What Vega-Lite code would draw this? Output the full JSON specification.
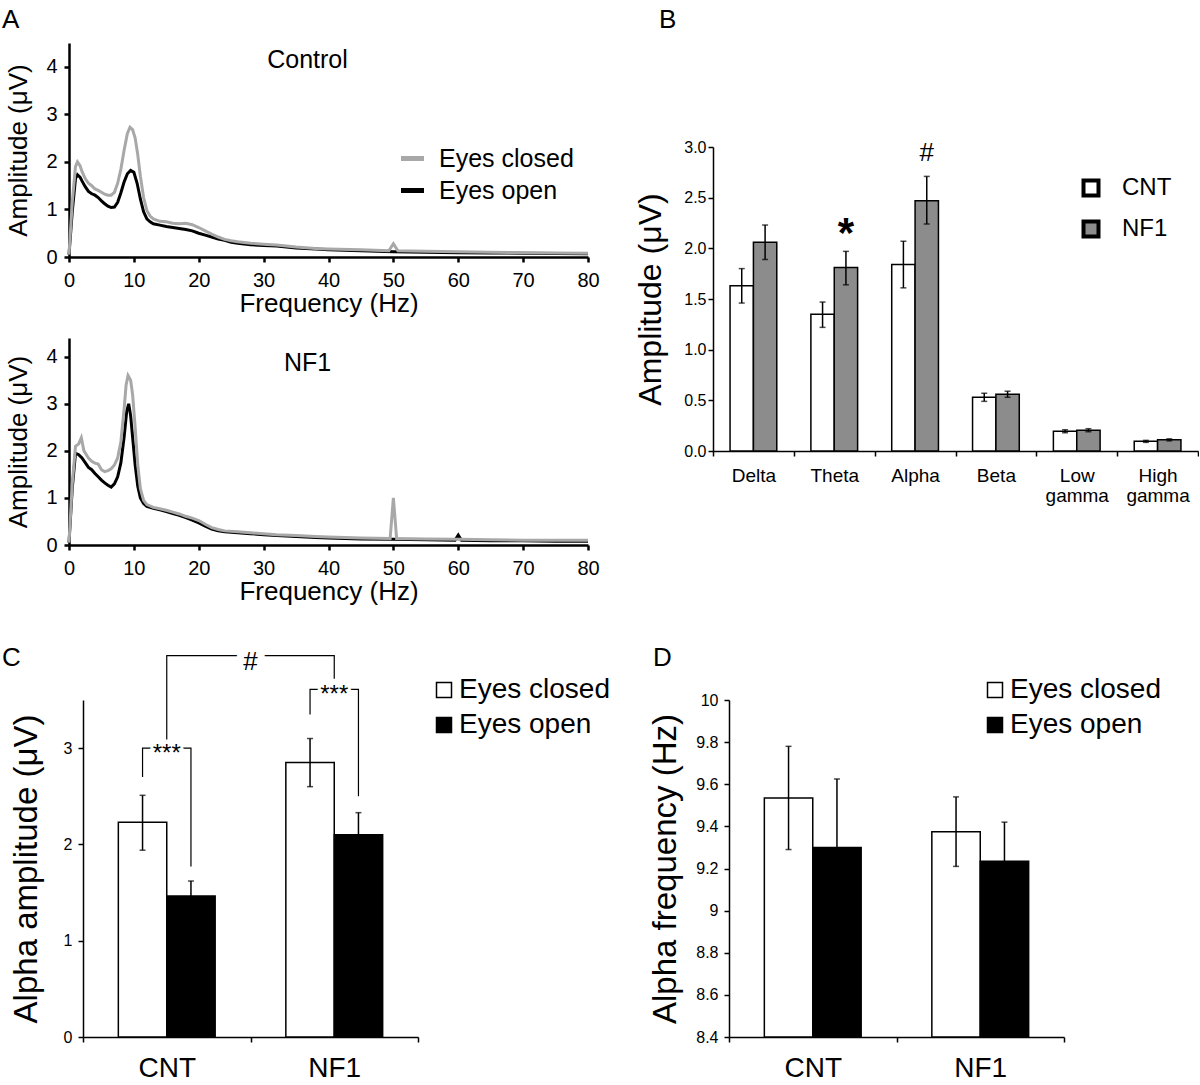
{
"$schema": "https://vega.github.io/schema/vega-lite/v6.json",
"padding": {"left": 2, "top": 7, "right": 0, "bottom": 0},
"columns": 1,
"align": "none",
"spacing": 40,
"resolve": {"scale": {"fill": "independent", "stroke": "independent", "xOffset": "independent"}, "legend": {"fill": "independent", "stroke": "independent"}},
"datasets": {
"ctrl": [
{"c":"Eyes open","f":0,"a":0.05},{"c":"Eyes open","f":0.5,"a":0.95},{"c":"Eyes open","f":1,"a":1.65},{"c":"Eyes open","f":1.3,"a":1.73},{"c":"Eyes open","f":1.7,"a":1.68},{"c":"Eyes open","f":2,"a":1.6},{"c":"Eyes open","f":2.5,"a":1.48},{"c":"Eyes open","f":3,"a":1.38},{"c":"Eyes open","f":3.5,"a":1.33},{"c":"Eyes open","f":4,"a":1.3},{"c":"Eyes open","f":4.5,"a":1.25},{"c":"Eyes open","f":5,"a":1.18},{"c":"Eyes open","f":5.5,"a":1.12},{"c":"Eyes open","f":6,"a":1.07},{"c":"Eyes open","f":6.5,"a":1.04},{"c":"Eyes open","f":7,"a":1.05},{"c":"Eyes open","f":7.5,"a":1.15},{"c":"Eyes open","f":8,"a":1.35},{"c":"Eyes open","f":8.5,"a":1.58},{"c":"Eyes open","f":9,"a":1.75},{"c":"Eyes open","f":9.5,"a":1.82},{"c":"Eyes open","f":10,"a":1.78},{"c":"Eyes open","f":10.5,"a":1.55},{"c":"Eyes open","f":11,"a":1.22},{"c":"Eyes open","f":11.5,"a":0.95},{"c":"Eyes open","f":12,"a":0.8},{"c":"Eyes open","f":12.5,"a":0.74},{"c":"Eyes open","f":13,"a":0.7},{"c":"Eyes open","f":14,"a":0.67},{"c":"Eyes open","f":15,"a":0.64},{"c":"Eyes open","f":16,"a":0.62},{"c":"Eyes open","f":17,"a":0.6},{"c":"Eyes open","f":18,"a":0.58},{"c":"Eyes open","f":19,"a":0.55},{"c":"Eyes open","f":20,"a":0.5},{"c":"Eyes open","f":21,"a":0.46},{"c":"Eyes open","f":22,"a":0.42},{"c":"Eyes open","f":23,"a":0.38},{"c":"Eyes open","f":24,"a":0.35},{"c":"Eyes open","f":25,"a":0.31},{"c":"Eyes open","f":26,"a":0.29},{"c":"Eyes open","f":28,"a":0.26},{"c":"Eyes open","f":30,"a":0.24},{"c":"Eyes open","f":32,"a":0.23},{"c":"Eyes open","f":35,"a":0.19},{"c":"Eyes open","f":38,"a":0.17},{"c":"Eyes open","f":40,"a":0.15},{"c":"Eyes open","f":45,"a":0.13},{"c":"Eyes open","f":50,"a":0.11},{"c":"Eyes open","f":55,"a":0.1},{"c":"Eyes open","f":60,"a":0.09},{"c":"Eyes open","f":65,"a":0.085},{"c":"Eyes open","f":70,"a":0.08},{"c":"Eyes open","f":75,"a":0.075},{"c":"Eyes open","f":80,"a":0.07},
{"c":"Eyes closed","f":0,"a":0.05},{"c":"Eyes closed","f":0.5,"a":1.15},{"c":"Eyes closed","f":1,"a":1.9},{"c":"Eyes closed","f":1.3,"a":2.0},{"c":"Eyes closed","f":1.7,"a":1.92},{"c":"Eyes closed","f":2,"a":1.8},{"c":"Eyes closed","f":2.5,"a":1.65},{"c":"Eyes closed","f":3,"a":1.55},{"c":"Eyes closed","f":3.5,"a":1.5},{"c":"Eyes closed","f":4,"a":1.43},{"c":"Eyes closed","f":4.5,"a":1.4},{"c":"Eyes closed","f":5,"a":1.36},{"c":"Eyes closed","f":5.5,"a":1.32},{"c":"Eyes closed","f":6,"a":1.3},{"c":"Eyes closed","f":6.5,"a":1.3},{"c":"Eyes closed","f":7,"a":1.36},{"c":"Eyes closed","f":7.5,"a":1.55},{"c":"Eyes closed","f":8,"a":1.85},{"c":"Eyes closed","f":8.5,"a":2.25},{"c":"Eyes closed","f":9,"a":2.6},{"c":"Eyes closed","f":9.4,"a":2.73},{"c":"Eyes closed","f":9.8,"a":2.68},{"c":"Eyes closed","f":10.2,"a":2.5},{"c":"Eyes closed","f":10.6,"a":2.15},{"c":"Eyes closed","f":11,"a":1.7},{"c":"Eyes closed","f":11.5,"a":1.25},{"c":"Eyes closed","f":12,"a":0.98},{"c":"Eyes closed","f":12.5,"a":0.86},{"c":"Eyes closed","f":13,"a":0.8},{"c":"Eyes closed","f":14,"a":0.75},{"c":"Eyes closed","f":15,"a":0.74},{"c":"Eyes closed","f":16,"a":0.71},{"c":"Eyes closed","f":17,"a":0.7},{"c":"Eyes closed","f":18,"a":0.71},{"c":"Eyes closed","f":19,"a":0.68},{"c":"Eyes closed","f":20,"a":0.62},{"c":"Eyes closed","f":21,"a":0.55},{"c":"Eyes closed","f":22,"a":0.48},{"c":"Eyes closed","f":23,"a":0.42},{"c":"Eyes closed","f":24,"a":0.37},{"c":"Eyes closed","f":25,"a":0.34},{"c":"Eyes closed","f":26,"a":0.32},{"c":"Eyes closed","f":28,"a":0.29},{"c":"Eyes closed","f":30,"a":0.27},{"c":"Eyes closed","f":32,"a":0.25},{"c":"Eyes closed","f":35,"a":0.21},{"c":"Eyes closed","f":38,"a":0.18},{"c":"Eyes closed","f":40,"a":0.17},{"c":"Eyes closed","f":45,"a":0.15},{"c":"Eyes closed","f":49.3,"a":0.13},{"c":"Eyes closed","f":50,"a":0.28},{"c":"Eyes closed","f":50.7,"a":0.13},{"c":"Eyes closed","f":55,"a":0.12},{"c":"Eyes closed","f":60,"a":0.11},{"c":"Eyes closed","f":65,"a":0.1},{"c":"Eyes closed","f":70,"a":0.09},{"c":"Eyes closed","f":75,"a":0.085},{"c":"Eyes closed","f":80,"a":0.08}
],
"nf1": [
{"c":"Eyes open","f":0,"a":0.05},{"c":"Eyes open","f":0.5,"a":1.2},{"c":"Eyes open","f":1,"a":1.95},{"c":"Eyes open","f":1.5,"a":1.92},{"c":"Eyes open","f":2,"a":1.85},{"c":"Eyes open","f":2.5,"a":1.75},{"c":"Eyes open","f":3,"a":1.65},{"c":"Eyes open","f":3.5,"a":1.6},{"c":"Eyes open","f":4,"a":1.52},{"c":"Eyes open","f":4.5,"a":1.45},{"c":"Eyes open","f":5,"a":1.38},{"c":"Eyes open","f":5.5,"a":1.32},{"c":"Eyes open","f":6,"a":1.27},{"c":"Eyes open","f":6.5,"a":1.23},{"c":"Eyes open","f":7,"a":1.3},{"c":"Eyes open","f":7.5,"a":1.45},{"c":"Eyes open","f":8,"a":1.75},{"c":"Eyes open","f":8.5,"a":2.3},{"c":"Eyes open","f":8.9,"a":2.85},{"c":"Eyes open","f":9.2,"a":3.0},{"c":"Eyes open","f":9.5,"a":2.75},{"c":"Eyes open","f":9.8,"a":2.3},{"c":"Eyes open","f":10.2,"a":1.7},{"c":"Eyes open","f":10.6,"a":1.25},{"c":"Eyes open","f":11,"a":1.0},{"c":"Eyes open","f":11.5,"a":0.88},{"c":"Eyes open","f":12,"a":0.82},{"c":"Eyes open","f":13,"a":0.78},{"c":"Eyes open","f":14,"a":0.75},{"c":"Eyes open","f":15,"a":0.71},{"c":"Eyes open","f":16,"a":0.67},{"c":"Eyes open","f":17,"a":0.63},{"c":"Eyes open","f":18,"a":0.58},{"c":"Eyes open","f":19,"a":0.53},{"c":"Eyes open","f":20,"a":0.47},{"c":"Eyes open","f":21,"a":0.4},{"c":"Eyes open","f":22,"a":0.34},{"c":"Eyes open","f":23,"a":0.3},{"c":"Eyes open","f":24,"a":0.28},{"c":"Eyes open","f":26,"a":0.26},{"c":"Eyes open","f":28,"a":0.24},{"c":"Eyes open","f":30,"a":0.22},{"c":"Eyes open","f":32,"a":0.2},{"c":"Eyes open","f":35,"a":0.18},{"c":"Eyes open","f":38,"a":0.16},{"c":"Eyes open","f":40,"a":0.15},{"c":"Eyes open","f":45,"a":0.13},{"c":"Eyes open","f":50,"a":0.12},{"c":"Eyes open","f":55,"a":0.11},{"c":"Eyes open","f":59.5,"a":0.1},{"c":"Eyes open","f":60,"a":0.21},{"c":"Eyes open","f":60.5,"a":0.1},{"c":"Eyes open","f":65,"a":0.09},{"c":"Eyes open","f":70,"a":0.09},{"c":"Eyes open","f":75,"a":0.08},{"c":"Eyes open","f":80,"a":0.08},
{"c":"Eyes closed","f":0,"a":0.05},{"c":"Eyes closed","f":0.5,"a":1.3},{"c":"Eyes closed","f":1,"a":2.1},{"c":"Eyes closed","f":1.5,"a":2.15},{"c":"Eyes closed","f":1.9,"a":2.28},{"c":"Eyes closed","f":2.3,"a":2.0},{"c":"Eyes closed","f":3,"a":1.85},{"c":"Eyes closed","f":3.5,"a":1.78},{"c":"Eyes closed","f":4,"a":1.74},{"c":"Eyes closed","f":4.5,"a":1.72},{"c":"Eyes closed","f":5,"a":1.6},{"c":"Eyes closed","f":5.5,"a":1.56},{"c":"Eyes closed","f":6,"a":1.58},{"c":"Eyes closed","f":6.5,"a":1.62},{"c":"Eyes closed","f":7,"a":1.7},{"c":"Eyes closed","f":7.5,"a":1.85},{"c":"Eyes closed","f":8,"a":2.2},{"c":"Eyes closed","f":8.5,"a":2.9},{"c":"Eyes closed","f":8.8,"a":3.4},{"c":"Eyes closed","f":9.1,"a":3.6},{"c":"Eyes closed","f":9.5,"a":3.5},{"c":"Eyes closed","f":9.8,"a":3.2},{"c":"Eyes closed","f":10.2,"a":2.5},{"c":"Eyes closed","f":10.6,"a":1.7},{"c":"Eyes closed","f":11,"a":1.2},{"c":"Eyes closed","f":11.5,"a":0.95},{"c":"Eyes closed","f":12,"a":0.86},{"c":"Eyes closed","f":13,"a":0.8},{"c":"Eyes closed","f":14,"a":0.77},{"c":"Eyes closed","f":15,"a":0.74},{"c":"Eyes closed","f":16,"a":0.7},{"c":"Eyes closed","f":17,"a":0.66},{"c":"Eyes closed","f":18,"a":0.61},{"c":"Eyes closed","f":19,"a":0.57},{"c":"Eyes closed","f":20,"a":0.52},{"c":"Eyes closed","f":21,"a":0.44},{"c":"Eyes closed","f":22,"a":0.37},{"c":"Eyes closed","f":23,"a":0.33},{"c":"Eyes closed","f":24,"a":0.3},{"c":"Eyes closed","f":26,"a":0.28},{"c":"Eyes closed","f":28,"a":0.26},{"c":"Eyes closed","f":30,"a":0.24},{"c":"Eyes closed","f":32,"a":0.22},{"c":"Eyes closed","f":35,"a":0.2},{"c":"Eyes closed","f":38,"a":0.18},{"c":"Eyes closed","f":40,"a":0.17},{"c":"Eyes closed","f":45,"a":0.15},{"c":"Eyes closed","f":49.5,"a":0.14},{"c":"Eyes closed","f":50,"a":1.0},{"c":"Eyes closed","f":50.5,"a":0.14},{"c":"Eyes closed","f":55,"a":0.13},{"c":"Eyes closed","f":60,"a":0.12},{"c":"Eyes closed","f":65,"a":0.11},{"c":"Eyes closed","f":70,"a":0.1},{"c":"Eyes closed","f":75,"a":0.1},{"c":"Eyes closed","f":80,"a":0.1}
],
"bands": [
{"band":"Delta","grp":"CNT","v":1.63,"lo":1.46,"hi":1.8,"sig":""},
{"band":"Delta","grp":"NF1","v":2.06,"lo":1.89,"hi":2.23,"sig":""},
{"band":"Theta","grp":"CNT","v":1.35,"lo":1.22,"hi":1.47,"sig":""},
{"band":"Theta","grp":"NF1","v":1.81,"lo":1.64,"hi":1.97,"sig":"*"},
{"band":"Alpha","grp":"CNT","v":1.84,"lo":1.61,"hi":2.07,"sig":""},
{"band":"Alpha","grp":"NF1","v":2.47,"lo":2.24,"hi":2.71,"sig":"#"},
{"band":"Beta","grp":"CNT","v":0.53,"lo":0.49,"hi":0.57,"sig":""},
{"band":"Beta","grp":"NF1","v":0.56,"lo":0.53,"hi":0.59,"sig":""},
{"band":"Low gamma","grp":"CNT","v":0.195,"lo":0.18,"hi":0.21,"sig":""},
{"band":"Low gamma","grp":"NF1","v":0.205,"lo":0.19,"hi":0.22,"sig":""},
{"band":"High gamma","grp":"CNT","v":0.095,"lo":0.085,"hi":0.105,"sig":""},
{"band":"High gamma","grp":"NF1","v":0.11,"lo":0.1,"hi":0.12,"sig":""}
],
"alpha": [
{"grp":"CNT","cond":"Eyes closed","v":2.23,"lo":1.94,"hi":2.51},
{"grp":"CNT","cond":"Eyes open","v":1.465,"lo":1.31,"hi":1.62},
{"grp":"NF1","cond":"Eyes closed","v":2.85,"lo":2.6,"hi":3.1},
{"grp":"NF1","cond":"Eyes open","v":2.1,"lo":1.87,"hi":2.33}
],
"freq": [
{"grp":"CNT","cond":"Eyes closed","v":9.535,"lo":9.29,"hi":9.78},
{"grp":"CNT","cond":"Eyes open","v":9.3,"lo":8.98,"hi":9.625},
{"grp":"NF1","cond":"Eyes closed","v":9.375,"lo":9.21,"hi":9.54},
{"grp":"NF1","cond":"Eyes open","v":9.235,"lo":9.05,"hi":9.42}
],
"brC": [
{"br":"cnt","grp":"CNT","cond":"Eyes closed","y":2.7,"i":1},
{"br":"cnt","grp":"CNT","cond":"Eyes closed","y":3.0,"i":2},
{"br":"cnt","grp":"CNT","cond":"Eyes open","y":3.0,"i":3},
{"br":"cnt","grp":"CNT","cond":"Eyes open","y":1.77,"i":4},
{"br":"nf1","grp":"NF1","cond":"Eyes closed","y":3.35,"i":1},
{"br":"nf1","grp":"NF1","cond":"Eyes closed","y":3.61,"i":2},
{"br":"nf1","grp":"NF1","cond":"Eyes open","y":3.61,"i":3},
{"br":"nf1","grp":"NF1","cond":"Eyes open","y":2.5,"i":4}
],
"brH": [
{"grp":"CNT","y":3.09,"i":1},
{"grp":"CNT","y":3.96,"i":2},
{"grp":"NF1","y":3.96,"i":3},
{"grp":"NF1","y":3.72,"i":4}
],
"starC": [
{"grp":"CNT","y":3.0,"t":"***"},
{"grp":"NF1","y":3.61,"t":"***"}
],
"hashC": [
{"grp":"CNT","y":3.96,"t":"#"}
]
},
"concat": [
{
"hconcat": [
{
"vconcat": [
{
"width": 519, "height": 214,
"data": {"name": "ctrl"},
"title": {"text": "Control", "anchor": "middle", "frame": "group", "fontSize": 25, "dx": -21, "offset": -30},
"mark": {"type": "line", "strokeWidth": 3},
"encoding": {
"x": {"field": "f", "type": "quantitative", "scale": {"domain": [0, 80], "nice": false}, "axis": {"values": [0,10,20,30,40,50,60,70,80], "format": "d", "title": "Frequency (Hz)", "domainWidth": 2.5, "tickWidth": 2.5, "tickSize": 5, "labelFontSize": 20, "labelPadding": 8, "titleFontSize": 26, "titlePadding": 0, "labelFlush": false}},
"y": {"field": "a", "type": "quantitative", "scale": {"domain": [0, 4.5], "nice": false}, "axis": {"values": [0,1,2,3,4], "format": "d", "title": "Amplitude (μV)", "domainWidth": 2.5, "tickWidth": 2.5, "tickSize": 5, "labelFontSize": 20, "labelPadding": 7, "titleFontSize": 26, "titlePadding": 14}},
"stroke": {"field": "c", "type": "nominal", "scale": {"domain": ["Eyes closed", "Eyes open"], "range": ["#a8a8a8", "black"]}, "legend": {"orient": "none", "legendX": 329, "legendY": 101, "title": null, "symbolType": "stroke", "symbolStrokeWidth": 5, "symbolSize": 530, "labelFontSize": 25, "labelOffset": 12, "rowPadding": 4, "labelLimit": 300}}
}
},
{
"width": 519, "height": 207,
"data": {"name": "nf1"},
"title": {"text": "NF1", "anchor": "middle", "frame": "group", "fontSize": 25, "dx": -21, "offset": -38},
"mark": {"type": "line", "strokeWidth": 3},
"encoding": {
"x": {"field": "f", "type": "quantitative", "scale": {"domain": [0, 80], "nice": false}, "axis": {"values": [0,10,20,30,40,50,60,70,80], "format": "d", "title": "Frequency (Hz)", "domainWidth": 2.5, "tickWidth": 2.5, "tickSize": 5, "labelFontSize": 20, "labelPadding": 8, "titleFontSize": 26, "titlePadding": 0, "labelFlush": false}},
"y": {"field": "a", "type": "quantitative", "scale": {"domain": [0, 4.4], "nice": false}, "axis": {"values": [0,1,2,3,4], "format": "d", "title": "Amplitude (μV)", "domainWidth": 2.5, "tickWidth": 2.5, "tickSize": 5, "labelFontSize": 20, "labelPadding": 7, "titleFontSize": 26, "titlePadding": 14}},
"stroke": {"field": "c", "type": "nominal", "scale": {"domain": ["Eyes closed", "Eyes open"], "range": ["#a8a8a8", "black"]}, "legend": null}
}
}
],
"spacing": 81, "bounds": "flush",
"resolve": {"scale": {"stroke": "independent"}, "legend": {"stroke": "independent"}},
"title": {"text": "A", "anchor": "start", "frame": "group", "dx": -67, "offset": 10}
},
{
"vconcat": [
{"width": 485, "height": 104, "data": {"values": []}, "mark": "point", "encoding": {}},
{
"width": 485, "height": 304,
"data": {"name": "bands"},
"encoding": {
"x": {"field": "band", "type": "nominal", "sort": null, "scale": {"paddingInner": 0, "paddingOuter": 0}, "axis": {"title": null, "labelAngle": 0, "tickBand": "extent", "labelFontSize": 19, "labelExpr": "split(datum.label, ' ')", "labelLineHeight": 20, "labelPadding": 10}},
"xOffset": {"field": "grp", "type": "nominal", "scale": {"domain": ["CNT", "NF1"], "paddingInner": 0, "paddingOuter": 0.73}}
},
"layer": [
{"mark": {"type": "bar", "stroke": "black", "strokeWidth": 1.5},
"encoding": {
"y": {"field": "v", "type": "quantitative", "scale": {"domain": [0, 3], "nice": false}, "axis": {"values": [0,0.5,1,1.5,2,2.5,3], "format": ".1f", "labelFontSize": 16, "titleFontSize": 32, "title": "Amplitude (μV)", "titlePadding": 16}},
"fill": {"field": "grp", "type": "nominal", "scale": {"domain": ["CNT", "NF1"], "range": ["white", "#8c8c8c"]}, "legend": {"orient": "none", "legendX": 366, "legendY": 29, "title": null, "symbolType": "square", "symbolSize": 225, "symbolStrokeColor": "black", "symbolStrokeWidth": 4, "labelFontSize": 24, "labelOffset": 19, "rowPadding": 9}}
}},
{"mark": {"type": "rule", "color": "black", "strokeWidth": 1.5}, "encoding": {"y": {"field": "lo", "type": "quantitative"}, "y2": {"field": "hi"}}},
{"mark": {"type": "tick", "color": "black", "size": 6, "thickness": 1.5}, "encoding": {"y": {"field": "lo", "type": "quantitative"}}},
{"mark": {"type": "tick", "color": "black", "size": 6, "thickness": 1.5}, "encoding": {"y": {"field": "hi", "type": "quantitative"}}},
{"transform": [{"filter": "datum.sig == '*'"}], "mark": {"type": "text", "fontSize": 42, "fontWeight": "bold", "baseline": "alphabetic", "dy": -4, "color": "black"}, "encoding": {"y": {"field": "hi", "type": "quantitative"}, "text": {"field": "sig"}}},
{"transform": [{"filter": "datum.sig == '#'"}], "mark": {"type": "text", "fontSize": 26, "baseline": "alphabetic", "dy": -15, "color": "black"}, "encoding": {"y": {"field": "hi", "type": "quantitative"}, "text": {"field": "sig"}}}
]
}
],
"spacing": 0, "bounds": "flush",
"resolve": {"scale": {"fill": "independent", "xOffset": "independent"}, "legend": {"fill": "independent"}},
"title": {"text": "B", "anchor": "start", "frame": "group", "dx": -54, "offset": 10}
}
],
"spacing": 34,
"resolve": {"scale": {"fill": "independent", "stroke": "independent", "xOffset": "independent"}, "legend": {"fill": "independent", "stroke": "independent"}}
},
{
"hconcat": [
{
"width": 349, "height": 337,
"title": {"text": "C", "anchor": "start", "frame": "group", "dx": -67, "offset": -22},
"layer": [
{"data": {"name": "alpha"}, "mark": {"type": "bar", "stroke": "black", "strokeWidth": 1.5},
"encoding": {
"x": {"field": "grp", "type": "nominal", "scale": {"domain": ["CNT", "NF1"], "range": [14, 349], "paddingInner": 0, "paddingOuter": 0}, "axis": {"title": null, "labelAngle": 0, "tickBand": "extent", "labelFontSize": 28, "labelPadding": 12}},
"xOffset": {"field": "cond", "type": "nominal", "scale": {"domain": ["Eyes closed", "Eyes open"], "paddingInner": 0, "paddingOuter": 0.73}},
"y": {"field": "v", "type": "quantitative", "scale": {"domain": [0, 3.5], "nice": false}, "axis": {"values": [0,1,2,3], "format": "d", "offset": -14, "title": "Alpha amplitude (μV)", "labelFontSize": 16, "titleFontSize": 33, "titlePadding": 20, "labelPadding": 6}},
"fill": {"field": "cond", "type": "nominal", "scale": {"domain": ["Eyes closed", "Eyes open"], "range": ["white", "black"]}, "legend": {"orient": "none", "legendX": 361, "legendY": -24, "title": null, "symbolType": "square", "symbolSize": 225, "symbolStrokeColor": "black", "symbolStrokeWidth": 1.5, "labelFontSize": 28, "labelOffset": 1, "rowPadding": 7, "labelLimit": 300}}
}},
{"data": {"name": "alpha"}, "mark": {"type": "rule", "color": "black", "strokeWidth": 1.5}, "encoding": {"x": {"field": "grp", "type": "nominal"}, "xOffset": {"field": "cond", "type": "nominal"}, "y": {"field": "lo", "type": "quantitative"}, "y2": {"field": "hi"}}},
{"data": {"name": "alpha"}, "mark": {"type": "tick", "color": "black", "size": 6, "thickness": 1.5}, "encoding": {"x": {"field": "grp", "type": "nominal"}, "xOffset": {"field": "cond", "type": "nominal"}, "y": {"field": "lo", "type": "quantitative"}}},
{"data": {"name": "alpha"}, "mark": {"type": "tick", "color": "black", "size": 6, "thickness": 1.5}, "encoding": {"x": {"field": "grp", "type": "nominal"}, "xOffset": {"field": "cond", "type": "nominal"}, "y": {"field": "hi", "type": "quantitative"}}},
{"data": {"name": "brC"}, "mark": {"type": "line", "color": "black", "strokeWidth": 1.2}, "encoding": {"x": {"field": "grp", "type": "nominal"}, "xOffset": {"field": "cond", "type": "nominal"}, "y": {"field": "y", "type": "quantitative"}, "detail": {"field": "br"}, "order": {"field": "i"}}},
{"data": {"name": "brH"}, "mark": {"type": "line", "color": "black", "strokeWidth": 1.2}, "encoding": {"x": {"field": "grp", "type": "nominal"}, "y": {"field": "y", "type": "quantitative"}, "order": {"field": "i"}}},
{"data": {"name": "starC"}, "mark": {"type": "text", "fontSize": 24, "baseline": "alphabetic", "dy": 13, "fill": "white", "stroke": "white", "strokeWidth": 5}, "encoding": {"x": {"field": "grp", "type": "nominal"}, "y": {"field": "y", "type": "quantitative"}, "text": {"field": "t"}}},
{"data": {"name": "starC"}, "mark": {"type": "text", "fontSize": 24, "baseline": "alphabetic", "dy": 13, "color": "black"}, "encoding": {"x": {"field": "grp", "type": "nominal"}, "y": {"field": "y", "type": "quantitative"}, "text": {"field": "t"}}},
{"data": {"name": "hashC"}, "mark": {"type": "text", "fontSize": 26, "baseline": "alphabetic", "dy": 14, "fill": "white", "stroke": "white", "strokeWidth": 14}, "encoding": {"x": {"field": "grp", "type": "nominal", "bandPosition": 1}, "y": {"field": "y", "type": "quantitative"}, "text": {"field": "t"}}},
{"data": {"name": "hashC"}, "mark": {"type": "text", "fontSize": 26, "baseline": "alphabetic", "dy": 14, "color": "black"}, "encoding": {"x": {"field": "grp", "type": "nominal", "bandPosition": 1}, "y": {"field": "y", "type": "quantitative"}, "text": {"field": "t"}}}
]
},
{
"width": 335, "height": 337,
"data": {"name": "freq"},
"title": {"text": "D", "anchor": "start", "frame": "group", "dx": -76, "offset": 5},
"encoding": {
"x": {"field": "grp", "type": "nominal", "scale": {"domain": ["CNT", "NF1"], "paddingInner": 0, "paddingOuter": 0}, "axis": {"title": null, "labelAngle": 0, "tickBand": "extent", "labelFontSize": 28, "labelPadding": 12}},
"xOffset": {"field": "cond", "type": "nominal", "scale": {"domain": ["Eyes closed", "Eyes open"], "paddingInner": 0, "paddingOuter": 0.73}}
},
"layer": [
{"mark": {"type": "bar", "stroke": "black", "strokeWidth": 1.5},
"encoding": {
"y": {"field": "v", "type": "quantitative", "scale": {"domain": [8.4, 10], "nice": false, "zero": false}, "axis": {"values": [8.4,8.6,8.8,9,9.2,9.4,9.6,9.8,10], "format": "~g", "title": "Alpha frequency (Hz)", "labelFontSize": 16, "titleFontSize": 33, "titlePadding": 13, "labelPadding": 6}},
"y2": {"datum": 8.4},
"fill": {"field": "cond", "type": "nominal", "scale": {"domain": ["Eyes closed", "Eyes open"], "range": ["white", "black"]}, "legend": {"orient": "none", "legendX": 252, "legendY": -24, "title": null, "symbolType": "square", "symbolSize": 225, "symbolStrokeColor": "black", "symbolStrokeWidth": 1.5, "labelFontSize": 28, "labelOffset": 1, "rowPadding": 7, "labelLimit": 300}}
}},
{"mark": {"type": "rule", "color": "black", "strokeWidth": 1.5}, "encoding": {"y": {"field": "lo", "type": "quantitative"}, "y2": {"field": "hi"}}},
{"mark": {"type": "tick", "color": "black", "size": 6, "thickness": 1.5}, "encoding": {"y": {"field": "lo", "type": "quantitative"}}},
{"mark": {"type": "tick", "color": "black", "size": 6, "thickness": 1.5}, "encoding": {"y": {"field": "hi", "type": "quantitative"}}}
]
}
],
"spacing": 311, "bounds": "flush",
"resolve": {"scale": {"fill": "independent", "xOffset": "independent"}, "legend": {"fill": "independent"}}
}
],
"config": {
"font": "Liberation Sans",
"view": {"stroke": null},
"axis": {"domainColor": "black", "domainWidth": 1.5, "tickColor": "black", "tickWidth": 1.5, "tickSize": 5, "labelColor": "black", "titleColor": "black", "titleFontWeight": "normal", "grid": false, "labelFont": "Liberation Sans", "titleFont": "Liberation Sans"},
"legend": {"labelColor": "black", "labelFont": "Liberation Sans", "padding": 0},
"title": {"fontSize": 26, "fontWeight": "normal", "color": "black", "font": "Liberation Sans"}
}
}
